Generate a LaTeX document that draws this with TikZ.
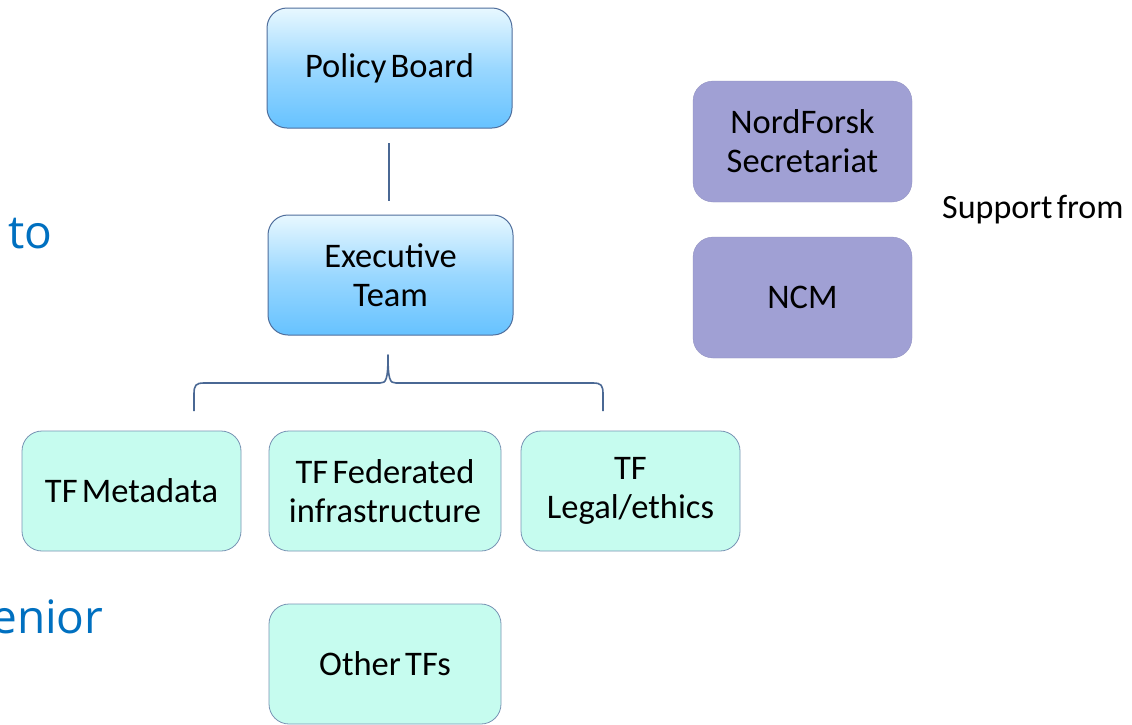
\documentclass[tikz,border=0pt]{standalone}
\usepackage{fontspec}
\setmainfont{Carlito}[WordSpace=0.55]
\newfontfamily\bluefont{Open Sans}
\definecolor{edgeblue}{HTML}{4F6E9C}
\definecolor{bracecol}{HTML}{4A6894}
\definecolor{mint}{HTML}{C6FCEF}
\definecolor{mintedge}{HTML}{7894B4}
\definecolor{lilac}{HTML}{A0A0D4}
\definecolor{textblue}{HTML}{0070C0}
\definecolor{skytop}{HTML}{E8F8FF}
\definecolor{skybot}{HTML}{66C2FF}
\tikzset{
  boxbase/.style={rounded corners=20pt, align=center, inner sep=0pt,
    font=\fontsize{34.5}{39}\selectfont, text=black},
  bluebox/.style={boxbase, draw=edgeblue, line width=1pt,
    top color=skytop, bottom color=skybot, middle color=skybot!60!skytop,
    minimum width=245pt, minimum height=120pt},
  mintbox/.style={boxbase, draw=mintedge, line width=0.8pt, fill=mint,
    minimum height=120pt},
  lilacbox/.style={boxbase, fill=lilac, draw=lilac!90!black, line width=0.3pt,
    minimum width=219pt, minimum height=121pt},
  bigblue/.style={font=\bluefont\fontsize{46}{50}\selectfont, text=textblue,
    inner sep=0pt, anchor=base west},
  conn/.style={draw=bracecol, line width=1.6pt}
}
\begin{document}
\begin{tikzpicture}[x=1pt,y=-1pt]
\useasboundingbox (0,0) rectangle (1132,724);
\clip (0,0) rectangle (1132,724);
\fill[white] (0,0) rectangle (1132,724);

\node[bluebox] (pb) at (389.5,68) {Policy Board};
\node[bluebox] (et) at (390.5,275) {Executive\\Team};

\node[mintbox, minimum width=219pt] (tfm) at (131.5,491) {TF Metadata};
\node[mintbox, minimum width=232pt] (tff) at (385,491) {TF Federated\\infrastructure};
\node[mintbox, minimum width=219pt] (tfl) at (630.5,491) {TF\\Legal/ethics};
\node[mintbox, minimum width=232pt] (otf) at (385,664) {Other TFs};

\node[lilacbox] (nf) at (802.5,141.5) {NordForsk\\Secretariat};
\node[lilacbox] (ncm) at (802.5,297.5) {NCM};

\node[font=\fontsize{34}{39}\selectfont, inner sep=0pt, anchor=base west] (sup) at (942,218) {Support from};

\node[bigblue] (to) at (8,248) {to};
\node[bigblue] (sen) at (-9,633) {enior};

% connector between Policy Board and Executive Team
\coordinate (l1) at (389,143);
\coordinate (l2) at (389,201);
\draw[conn] (l1) -- (l2);

% brace
\coordinate (btip) at (388,355);
\coordinate (bl) at (194,411);
\coordinate (br) at (603,411);
\draw[conn, line join=round]
  (bl) -- (194,394) .. controls (194,385) and (196,383) .. (204,383)
  -- (380,383) .. controls (386,383) and (388,380) .. (btip)
  .. controls (388,380) and (390,383) .. (396,383)
  -- (593,383) .. controls (601,383) and (603,385) .. (603,394) -- (br);
\end{tikzpicture}
\end{document}
